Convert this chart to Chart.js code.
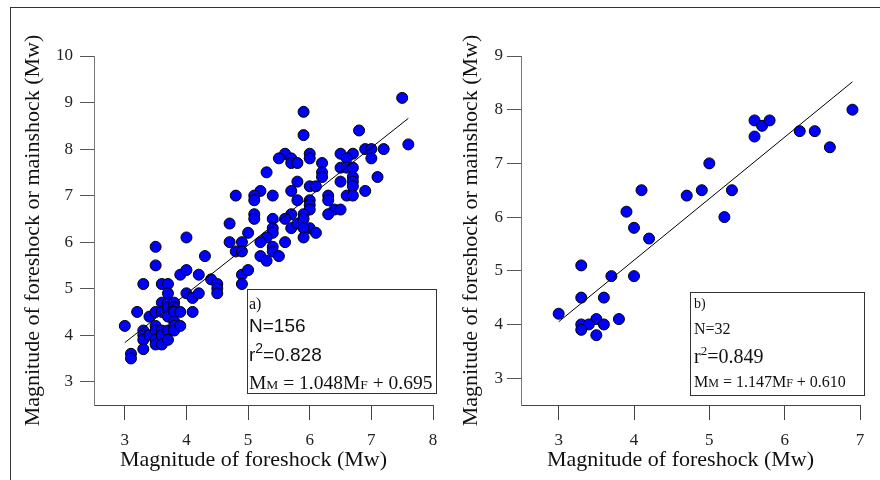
<!DOCTYPE html>
<html>
<head>
<meta charset="utf-8">
<script src="https://cdn.jsdelivr.net/npm/chart.js@4.4.0/dist/chart.umd.min.js"></script>
<style>
  body { margin: 0; background: #fff; width: 880px; height: 480px; overflow: hidden; position: relative; }
  #frame { position: absolute; left: 10px; top: 7px; width: 880px; height: 480px;
           border-top: 1px solid #333; border-left: 1px solid #333; }
  canvas { position: absolute; top: 0; }
  #chartA { left: 0; }
  #chartB { left: 440px; }
</style>
</head>
<body>
<div id="frame"></div>
<canvas id="chartA" width="440" height="480"></canvas>
<canvas id="chartB" width="440" height="480"></canvas>
<script>
// panel a) foreshock vs mainshock magnitudes
const foreA = [7.5,7.6,5.9,5.9,6.8,6.9,7.0,7.2,7.0,7.1,6.9,6.5,6.7,6.6,6.5,6.6,6.7,6.7,6.7,6.7,
  6.5,6.6,6.7,6.3,6.3,6.2,6.2,6.2,6.4,6.5,6.3,6.0,6.0,5.6,5.5,5.7,5.7,5.8,5.3,5.8,
  5.7,6.0,6.1,5.8,6.0,6.0,6.0,5.9,5.7,5.6,5.4,5.4,5.2,5.1,5.1,4.8,5.1,5.1,4.7,5.0,
  5.4,5.4,5.7,5.8,5.9,6.0,6.1,5.9,5.3,5.9,5.6,4.0,4.7,4.9,5.2,5.4,5.4,4.8,4.9,5.2,
  5.5,5.3,4.9,5.0,4.9,
  3.0,3.1,3.1,3.2,3.3,3.3,3.3,3.3,3.3,3.4,3.4,3.5,3.5,3.5,3.5,3.5,3.5,3.5,3.6,3.6,
  3.6,3.6,3.6,3.6,3.7,3.7,3.7,3.7,3.7,3.7,3.7,3.8,3.8,3.8,3.8,3.8,3.8,3.9,3.9,3.9,
  4.0,4.0,4.1,4.1,4.2,4.2,4.3,4.4,4.5,4.5,4.5];
const mainA = [9.1,8.1,8.8,8.3,8.4,8.0,8.0,8.0,7.8,7.4,7.1,7.9,7.9,7.8,7.6,7.6,7.6,7.4,7.3,7.2,
  7.3,7.0,7.0,7.0,6.9,7.7,7.5,7.4,6.7,6.7,6.6,7.9,7.8,7.9,7.8,7.8,7.7,7.7,7.5,7.3,
  7.1,7.2,7.2,6.9,6.9,6.8,6.7,6.6,6.6,6.5,7.0,6.5,7.1,7.0,6.9,7.0,6.6,6.5,6.4,6.2,
  6.3,6.2,6.3,6.4,6.5,6.3,6.2,6.3,6.1,6.1,6.0,6.1,6.0,6.0,6.0,5.9,5.8,5.8,5.8,5.7,
  5.7,5.6,5.3,5.4,5.1,
  4.2,3.6,3.5,4.5,5.1,4.1,4.0,3.9,3.7,4.4,4.0,5.9,5.5,4.5,4.2,4.1,3.9,3.8,5.1,4.7,
  4.5,4.1,4.0,3.8,5.1,4.9,4.7,4.6,4.4,4.1,3.9,4.7,4.6,4.5,4.3,4.2,4.1,4.5,4.2,5.3,
  5.4,4.9,4.8,4.5,5.3,4.9,5.7,5.2,5.1,5.0,4.9];
const fitAx = [3.0, 7.6];
const fitAy = [3.84, 8.66];
const xTicksA = [3, 4, 5, 6, 7, 8];
const yTicksA = [3, 4, 5, 6, 7, 8, 9, 10];

// panel b)
const foreB = [6.9,5.6,5.7,5.8,5.6,6.2,6.4,6.6,5.0,4.9,4.7,5.3,5.2,4.1,3.9,4.0,4.2,
  3.3,3.7,4.0,3.3,3.6,3.0,3.5,3.8,3.3,3.4,3.6,3.3,3.5];
const mainB = [8.0,7.8,7.7,7.8,7.5,7.6,7.6,7.3,7.0,6.5,6.4,6.5,6.0,6.5,6.1,5.8,5.6,
  5.1,4.9,4.9,4.5,4.5,4.2,4.1,4.1,4.0,4.0,4.0,3.9,3.8];
const fitBx = [3.0, 6.9];
const fitBy = [4.05, 8.52];
const xTicksB = [3, 4, 5, 6, 7];
const yTicksB = [3, 4, 5, 6, 7, 8, 9];

const SERIF = 'Liberation Serif';
const SANS = 'Liberation Sans';
const X_TITLE = 'Magnitude of foreshock (Mw)';
const Y_TITLE = 'Magnitude of foreshock or mainshock (Mw)';

// white box with the regression statistics
const statBox = {
  id: 'statBox',
  afterDatasetsDraw(chart, args, opts) {
    const ctx = chart.ctx;
    const [x, y, w, h] = opts.rect;
    ctx.save();
    ctx.fillStyle = '#fff';
    ctx.fillRect(x, y, w, h);
    ctx.strokeStyle = '#333';
    ctx.lineWidth = 1;
    ctx.strokeRect(x + 0.5, y + 0.5, w, h);
    ctx.fillStyle = '#111';
    ctx.textBaseline = 'alphabetic';
    opts.lines.forEach(line => {
      let cx = x + opts.pad;
      line.runs.forEach(r => {
        ctx.font = r.font;
        ctx.fillText(r.text, cx, line.base + (r.dy || 0));
        cx += ctx.measureText(r.text).width;
      });
    });
    ctx.restore();
  }
};

// x axis title, sitting a little left of the axis centre like the original
const xTitle = {
  id: 'xTitle',
  afterDraw(chart, args, opts) {
    const ctx = chart.ctx;
    const a = chart.chartArea;
    ctx.save();
    ctx.font = '22px ' + SERIF;
    ctx.fillStyle = '#111';
    ctx.textAlign = 'center';
    ctx.textBaseline = 'middle';
    ctx.fillText(X_TITLE, (a.left + a.right) / 2 + opts.shift, opts.y);
    ctx.restore();
  }
};

function scales(xMin, xMax, xTicks, yMin, yMax, yTicks, yWidth, yPad) {
  return {
    x: {
      type: 'linear', min: xMin, max: xMax,
      afterBuildTicks: s => { s.ticks = xTicks.map(v => ({ value: v })); },
      afterFit: s => { s.height = 68; s.paddingLeft = 0; s.paddingRight = 0; },
      grid: { drawOnChartArea: false, drawTicks: true, tickLength: 15, color: '#444' },
      border: { display: true, color: '#444', width: 1 },
      ticks: { font: { family: SERIF, size: 17 }, color: '#222', padding: 10, maxRotation: 0, autoSkip: false },
      title: { display: false }
    },
    y: {
      type: 'linear', min: yMin, max: yMax,
      afterBuildTicks: s => { s.ticks = yTicks.map(v => ({ value: v })); },
      afterFit: s => { s.width = yWidth; s.paddingTop = 0; s.paddingBottom = 0; },
      grid: { drawOnChartArea: false, drawTicks: true, tickLength: 14, color: '#555' },
      border: { display: true, color: '#777', width: 1 },
      ticks: { font: { family: SERIF, size: 17 }, color: '#222', padding: yPad, autoSkip: false },
      title: { display: true, text: Y_TITLE, font: { family: SERIF, size: 22 }, color: '#111', padding: 0 }
    }
  };
}

function datasets(fx, my, lx, ly) {
  return [
    {
      type: 'line',
      data: lx.map((v, i) => ({ x: v, y: ly[i] })),
      borderColor: '#000', borderWidth: 1, pointRadius: 0, fill: false, order: 0
    },
    {
      type: 'scatter',
      data: fx.map((v, i) => ({ x: v, y: my[i] })),
      backgroundColor: '#0000ff', borderColor: '#000', borderWidth: 1,
      pointRadius: 5.5, pointHoverRadius: 5.5, order: 1
    }
  ];
}

const commonPlugins = { legend: { display: false }, tooltip: { enabled: false } };

new Chart(document.getElementById('chartA'), {
  type: 'scatter',
  data: { datasets: datasets(foreA, mainA, fitAx, fitAy) },
  plugins: [statBox, xTitle],
  options: {
    responsive: false, animation: false,
    layout: { padding: { left: 20, top: 56, right: 7, bottom: 7 } },
    scales: scales(2.5, 8, xTicksA, 2.5, 10, yTicksA, 74, 7),
    plugins: Object.assign({}, commonPlugins, {
      xTitle: { shift: -10, y: 460 },
      statBox: {
        rect: [247, 289, 189, 104], pad: 2,
        lines: [
          { base: 309, runs: [{ text: 'a)', font: '16px ' + SERIF }] },
          { base: 332, runs: [{ text: 'N=156', font: '19px ' + SANS }] },
          { base: 361, runs: [{ text: 'r', font: '19px ' + SANS }, { text: '2', font: '14px ' + SANS, dy: -8 }, { text: '=0.828', font: '19px ' + SANS }] },
          { base: 389, runs: [
            { text: 'M', font: '19.5px ' + SERIF }, { text: 'M', font: '13.5px ' + SERIF },
            { text: ' = 1.048M', font: '19.5px ' + SERIF }, { text: 'F', font: '13.5px ' + SERIF },
            { text: ' + 0.695', font: '19.5px ' + SERIF }] }
        ]
      }
    })
  }
});

new Chart(document.getElementById('chartB'), {
  type: 'scatter',
  data: { datasets: datasets(foreB, mainB, fitBx, fitBy) },
  plugins: [statBox, xTitle],
  options: {
    responsive: false, animation: false,
    layout: { padding: { left: 18, top: 56, right: 20, bottom: 7 } },
    scales: scales(2.5, 7, xTicksB, 2.5, 9, yTicksB, 63, 4),
    plugins: Object.assign({}, commonPlugins, {
      xTitle: { shift: -10, y: 460 },
      statBox: {
        rect: [250, 292, 174, 103], pad: 4,
        lines: [
          { base: 308, runs: [{ text: 'b)', font: '14px ' + SERIF }] },
          { base: 334, runs: [{ text: 'N=32', font: '16px ' + SERIF }] },
          { base: 363, runs: [{ text: 'r', font: '20px ' + SERIF }, { text: '2', font: '13px ' + SERIF, dy: -8 }, { text: '=0.849', font: '20px ' + SERIF }] },
          { base: 387, runs: [
            { text: 'M', font: '16px ' + SERIF }, { text: 'M', font: '12px ' + SERIF },
            { text: ' = 1.147M', font: '16px ' + SERIF }, { text: 'F', font: '12px ' + SERIF },
            { text: ' + 0.610', font: '16px ' + SERIF }] }
        ]
      }
    })
  }
});
</script>
</body>
</html>
